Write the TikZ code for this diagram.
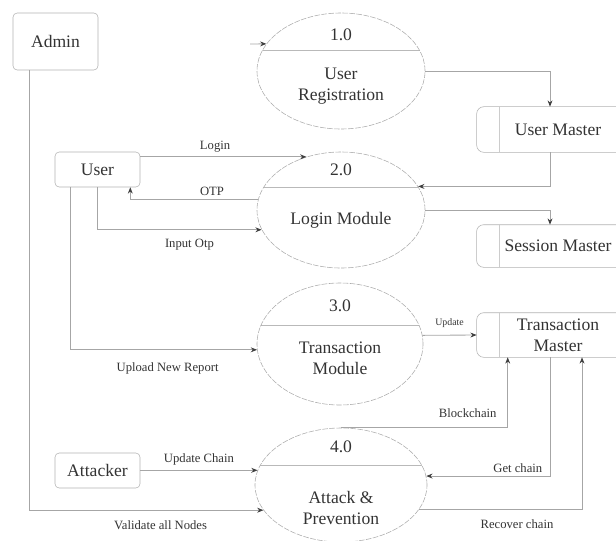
\documentclass[tikz,border=0pt]{standalone}
\usepackage{fontspec}
\setmainfont{Liberation Serif}
\newfontfamily\dfdfont{Liberation Serif}
\usetikzlibrary{shapes.geometric,arrows.meta}

\tikzset{
  entity/.style={draw=gray!60, rounded corners=3pt, minimum width=2.125cm,
    text=black!80, font=\dfdfont\fontsize{12.5}{15}\selectfont},
  proc/.style={ellipse, draw=gray!65, dash pattern=on 4pt off 1pt, inner sep=0pt,
    minimum width=4.2cm, minimum height=2.9cm,
    path picture={\draw[gray!55, solid] ([yshift=-#1]path picture bounding box.north west)
      -- ([yshift=-#1]path picture bounding box.north east);}},
  store/.style={minimum width=2.9cm, minimum height=1.1cm, align=center,
    text=black!80, font=\dfdfont\fontsize{12.5}{15}\selectfont},
  ptext/.style={align=center, text=black!80, font=\dfdfont\fontsize{12.5}{15}\selectfont},
  flow/.style={->, draw=gray!70, line width=0.6pt},
  lbl/.style={text=black!80, font=\dfdfont\fontsize{9}{10}\selectfont, inner sep=1pt},
}

\begin{document}
\begin{tikzpicture}[x=0.025cm, y=-0.025cm, >={Stealth[length=4.5pt,width=3.5pt,black!75]}]

    \useasboundingbox (0,0) rectangle (616,540);

    % External entities
    \node[entity, minimum height=1.425cm] (admin) at (55.5,41.5) {Admin};
    \node[entity, minimum height=0.875cm] (user) at (97.5,169.5) {User};
    \node[entity, minimum height=0.875cm] (attacker) at (97.5,470.5) {Attacker};

    % Processes
    \node[proc=0.92cm] (p1) at (341,71) {};
    \node[proc=0.88cm] (p2) at (341,210) {};
    \node[proc=1.05cm, minimum width=4.15cm, minimum height=3.05cm] (p3) at (340,344) {};
    \node[proc=0.93cm, minimum width=4.3cm, minimum height=2.85cm] (p4) at (341,485) {};

    \node[ptext] (p1num) at ([yshift=-0.55cm]p1.north) {1.0};
    \node[ptext] (p1txt) at ([yshift=-0.375cm]p1.center) {User\\Registration};
    \node[ptext] (p2num) at ([yshift=-0.45cm]p2.north) {2.0};
    \node[ptext] (p2txt) at ([yshift=-0.25cm]p2.center) {Login Module};
    \node[ptext] (p3num) at ([yshift=-0.575cm]p3.north) {3.0};
    \node[ptext] (p3txt) at ([yshift=-0.35cm]p3.center) {Transaction\\Module};
    \node[ptext] (p4num) at ([yshift=-0.475cm]p4.north) {4.0};
    \node[ptext] (p4txt) at ([yshift=-0.575cm]p4.center) {Attack \&\\Prevention};

    % Data stores (open to the right)
    \node[store, minimum height=1.125cm] (um) at (558,129.5) {User Master};
    \node[store, minimum height=1.05cm] (sm) at (558,246) {Session Master};
    \node[store] (tm) at (558,335) {Transaction\\Master};
    \foreach \s in {um,sm,tm} {
        \draw[gray!60, rounded corners=5pt] (\s.north east) -- ([xshift=-0.575cm]\s.north west)
            -- ([xshift=-0.575cm]\s.south west) -- (\s.south east);
        \draw[gray!40] (\s.north west) -- (\s.south west);
    }

    % Flows
    \coordinate (in1) at (250,44);
    \draw[flow] (in1) -- (p1.160);
    \draw[flow] (p1.east) -| ([xshift=-0.2cm]um.north);
    \draw[flow] ([xshift=-0.2cm]um.south) |- (p2.17);
    \draw[flow] (p2.east) -| ([xshift=-0.2cm]sm.north);

    \draw[flow] (user.east |- p2.123) -- (p2.123) node[lbl, pos=0.45, above=2pt] {Login};
    \draw[flow] (p2.173) -| ([xshift=-0.25cm]user.south east) node[lbl, pos=0.18, above=2pt] {OTP};
    \draw[flow] (user.south) |- (p2.194) node[lbl, pos=0.78, below=5pt] {Input Otp};
    \draw[flow] ([xshift=0.4cm]user.south west) |- (p3.184) node[lbl, pos=0.76, below=8pt] {Upload New Report};

    \draw[flow] (p3.6) -- ([xshift=-0.575cm]tm.west) node[lbl, midway, above=4pt, font=\dfdfont\fontsize{7}{8}\selectfont] {Update};
    \draw[flow] (p4.north) -| ([xshift=0.2cm]tm.south west) node[lbl, pos=0.38, above=6pt] {Blockchain};
    \draw[flow] ([xshift=-0.2cm]tm.south) |- (p4.6) node[lbl, pos=0.63, above=1pt] {Get chain};
    \draw[flow] (p4.343) -| ([xshift=0.6cm]tm.south) node[lbl, pos=0.3, below=6pt] {Recover chain};

    \draw[flow] (attacker.east |- p4.170) -- (p4.170) node[lbl, midway, above=2pt] {Update Chain};
    \draw[flow] ([xshift=0.425cm]admin.south west) |- (p4.198) node[lbl, pos=0.78, below=6pt] {Validate all Nodes};

\end{tikzpicture}
\end{document}
